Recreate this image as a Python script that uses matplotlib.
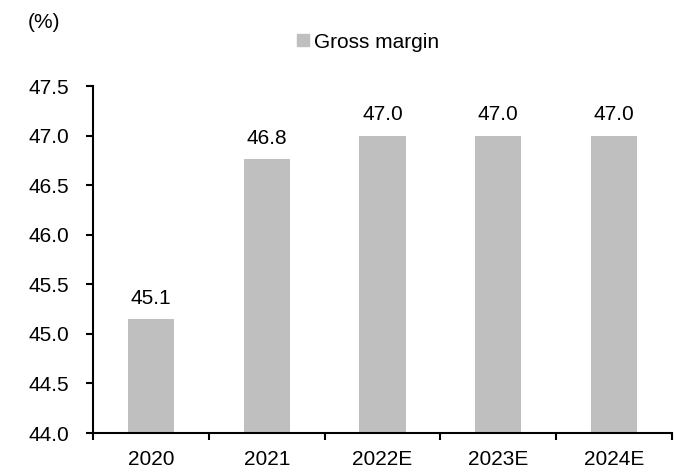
import numpy as np
import matplotlib
matplotlib.use("Agg")
from matplotlib import pyplot as plt
from matplotlib.patches import Patch

years = ["2020", "2021", "2022E", "2023E", "2024E"]
gross_margin = [45.15, 46.76, 47.0, 47.0, 47.0]
value_labels = ["45.1", "46.8", "47.0", "47.0", "47.0"]

plt.rcParams["font.family"] = ["Liberation Sans", "DejaVu Sans"]
plt.rcParams["font.size"] = 15

fig = plt.figure(figsize=(6.83, 4.73), dpi=100)
ax = fig.add_axes([93 / 683, 1 - 433 / 473, (672 - 93) / 683, (433 - 86) / 473])

x = np.arange(len(years))
ax.bar(x, gross_margin, width=0.4, color="#bfbfbf")
for xi, v, lab in zip(x, gross_margin, value_labels):
    ax.annotate(lab, (xi, v), xytext=(0, 8), textcoords="offset points",
                ha="center", va="bottom", fontsize=15)

ax.set_xlim(-0.5, len(years) - 0.5)
ax.set_ylim(44.0, 47.5)
yt = np.arange(44.0, 47.51, 0.5)
ax.set_yticks(yt)
ax.set_yticklabels([f"{t:.1f}" for t in yt])

ax.set_xticks(x)
ax.set_xticklabels(years)
ax.tick_params(axis="x", length=0, pad=12)
ax.set_xticks(np.arange(-0.5, len(years)), minor=True)
ax.tick_params(axis="x", which="minor", length=5, width=1.5, direction="out")
ax.tick_params(axis="y", length=5, width=1.5, direction="out", pad=12)

for s in ["top", "right"]:
    ax.spines[s].set_visible(False)
for s in ["left", "bottom"]:
    ax.spines[s].set_linewidth(1.5)

fig.text(28 / 683, 1 - 22 / 473, "(%)", ha="left", va="center", fontsize=15)
fig.legend(handles=[Patch(color="#bfbfbf", label="Gross margin")],
           loc="center", bbox_to_anchor=(368 / 683, 1 - 42 / 473),
           frameon=False, handlelength=0.55, handleheight=0.55, handletextpad=0.25,
           fontsize=15)

fig.savefig("out.png", dpi=100)
